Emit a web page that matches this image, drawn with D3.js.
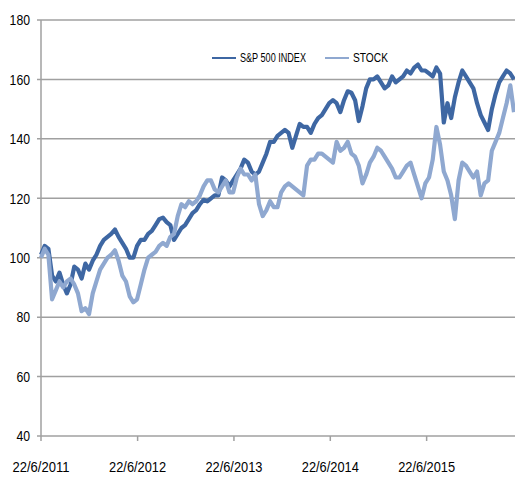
<!DOCTYPE html>
<html>
<head>
<meta charset="utf-8">
<script src="https://cdn.jsdelivr.net/npm/d3@7"></script>
<style>
  body { margin: 0; background: #fff; }
  svg { display: block; font-family: "Liberation Sans Narrow", "Arial Narrow", Arial, sans-serif; }
</style>
</head>
<body>
<div id="chart"></div>
<script>
// Fortnightly observations starting 22/6/2011
const startDate = "2011-06-22";
const stepDays = 14;

const spIndex = [
  101, 104, 103, 94, 92, 95, 91, 88, 91, 97,
  96, 93, 98, 96, 99, 101, 104, 106, 107, 108,
  109.5, 107, 105, 103, 100, 100, 104, 106, 106, 108,
  109, 111, 113, 113.5, 112, 111, 106, 108, 110, 111,
  113, 115, 116, 118, 119.5, 119, 120, 121, 121, 127,
  126, 124, 126, 128, 130, 133, 132, 129, 128, 129,
  132, 135, 139, 139, 141, 142, 143, 142, 137, 141,
  145, 144, 144, 142, 145, 147, 148, 150, 152, 153,
  152, 149, 153, 156, 155.5, 153, 146, 151, 157, 160,
  160, 161, 159, 157, 158, 161, 159, 160, 161, 163,
  162, 164, 165, 163, 163, 162, 161, 164, 162, 145.5,
  152, 147, 154, 159, 163, 161, 159, 157, 152, 148,
  145.5, 143, 150, 155, 159, 161, 163, 162, 160
];

const stock = [
  100, 103, 101, 86, 89, 92, 90, 92, 93, 91,
  88, 82, 83, 81, 88, 92, 96, 98, 100, 101,
  102.5, 99, 94, 92, 87, 85, 86, 91, 96, 100,
  101, 102, 104, 105, 104, 107, 108, 114, 118, 117,
  119, 118, 119, 121, 124, 126, 126, 123, 122, 124,
  126, 122, 122, 127, 130, 128, 128, 126, 128, 118,
  114, 116, 119, 117, 117, 122, 124, 125, 124, 123,
  122, 121, 131, 133, 133, 135, 135, 134, 133, 132,
  139, 136, 137, 139, 135, 134, 131, 125, 128, 132,
  134, 137, 136, 134, 132, 130, 127, 127, 129, 131,
  132, 128, 124, 120, 125, 127, 133, 144, 138, 129,
  126, 121, 113, 126, 132, 131, 129, 127, 129, 121,
  125, 126, 136, 139, 142, 147, 152, 158, 149
];

const seriesNames = ["S&P 500 INDEX", "STOCK"];
const seriesColors = ["#3e67a3", "#8fa8d0"];

const yTicks = [40, 60, 80, 100, 120, 140, 160, 180];
const xTickDates = ["2011-06-22", "2012-06-22", "2013-06-22", "2014-06-22", "2015-06-22"];
const xTickLabels = ["22/6/2011", "22/6/2012", "22/6/2013", "22/6/2014", "22/6/2015"];

const width = 515, height = 477;
const margin = { top: 20, right: 0, bottom: 41, left: 41 };

const parse = d3.timeParse("%Y-%m-%d");
const start = parse(startDate);
const dates = spIndex.map((d, i) => d3.timeDay.offset(start, i * stepDays));

const svg = d3.select("#chart").append("svg")
  .attr("width", width)
  .attr("height", height);

const x = d3.scaleTime()
  .domain([start, dates[dates.length - 1]])
  .range([margin.left, width - margin.right - 1]);

const y = d3.scaleLinear()
  .domain([40, 180])
  .range([height - margin.bottom, margin.top]);

// gridlines
svg.append("g")
  .selectAll("line")
  .data(yTicks)
  .enter()
  .append("line")
  .attr("x1", margin.left - 4)
  .attr("x2", width)
  .attr("y1", d => y(d))
  .attr("y2", d => y(d))
  .attr("stroke", "#a0a0a0")
  .attr("stroke-width", 1.5);

// y axis line
svg.append("line")
  .attr("x1", margin.left).attr("x2", margin.left)
  .attr("y1", y(180)).attr("y2", y(40))
  .attr("stroke", "#a0a0a0")
  .attr("stroke-width", 1.5);

// y labels
svg.append("g")
  .selectAll("text")
  .data(yTicks)
  .enter()
  .append("text")
  .attr("x", margin.left - 11)
  .attr("y", d => y(d))
  .attr("dy", "0.35em")
  .attr("text-anchor", "end")
  .style("font-size", "15px")
  .style("fill", "#000")
  .attr("textLength", d => String(d).length * 6.8)
  .attr("lengthAdjust", "spacingAndGlyphs")
  .text(d => d);

// x ticks + labels
const xt = svg.append("g");
xt.selectAll("line")
  .data(xTickDates)
  .enter()
  .append("line")
  .attr("x1", d => x(parse(d)))
  .attr("x2", d => x(parse(d)))
  .attr("y1", y(40))
  .attr("y2", y(40) + 5)
  .attr("stroke", "#a0a0a0")
  .attr("stroke-width", 1.5);

xt.selectAll("text")
  .data(xTickDates)
  .enter()
  .append("text")
  .attr("x", d => x(parse(d)))
  .attr("y", y(40) + 36)
  .attr("text-anchor", "middle")
  .style("font-size", "15px")
  .style("fill", "#000")
  .attr("textLength", 57)
  .attr("lengthAdjust", "spacingAndGlyphs")
  .text((d, i) => xTickLabels[i]);

// lines
const line = d3.line()
  .x((d, i) => x(dates[i]))
  .y(d => y(d));

[spIndex, stock].forEach((s, k) => {
  svg.append("path")
    .datum(s)
    .attr("d", line)
    .attr("fill", "none")
    .attr("stroke", seriesColors[k])
    .attr("stroke-width", 4.2)
    .attr("stroke-linejoin", "round");
});

// legend
const legendPos = [212, 325];
const legendText = [66, 35];
const legend = svg.append("g").attr("transform", "translate(0, 58)");
seriesNames.forEach((name, i) => {
  legend.append("line")
    .attr("x1", legendPos[i]).attr("x2", legendPos[i] + 24)
    .attr("y1", 0).attr("y2", 0)
    .attr("stroke", seriesColors[i])
    .attr("stroke-width", 2);
  legend.append("text")
    .attr("x", legendPos[i] + 28)
    .attr("y", 0)
    .attr("dy", "0.35em")
    .style("font-size", "12px")
    .style("fill", "#000")
    .attr("textLength", legendText[i])
    .attr("lengthAdjust", "spacingAndGlyphs")
    .text(name);
});
</script>
</body>
</html>
